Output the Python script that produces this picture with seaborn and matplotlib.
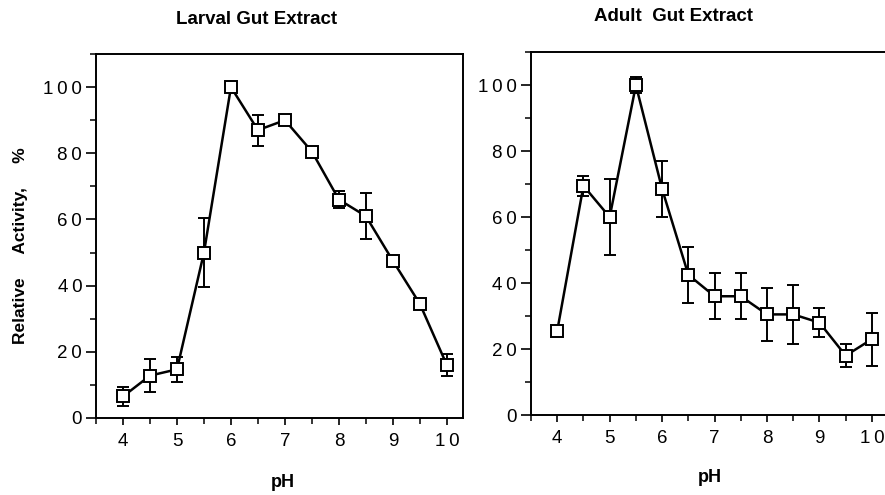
import numpy as np
import matplotlib
matplotlib.use("Agg")
import matplotlib.pyplot as plt
import seaborn as sns
import pandas as pd
from matplotlib.ticker import MultipleLocator, FuncFormatter

sns.set_theme(style="ticks")
plt.rcParams['font.family'] = ['Liberation Sans', 'DejaVu Sans']
plt.rcParams['text.color'] = 'black'
plt.rcParams['xtick.color'] = 'black'
plt.rcParams['ytick.color'] = 'black'

# pH values shared by both panels
ph = [4.0, 4.5, 5.0, 5.5, 6.0, 6.5, 7.0, 7.5, 8.0, 8.5, 9.0, 9.5, 10.0]

# Larval gut extract, relative activity (%) and error
larval = [6.5, 12.8, 14.7, 50.0, 100.0, 87.0, 90.0, 80.5, 66.0, 61.0, 47.5, 34.5, 16.0]
larval_err = [3.0, 5.0, 3.8, 10.5, 0.0, 4.7, 0.0, 0.0, 2.5, 7.0, 1.5, 0.0, 3.2]

# Adult gut extract
adult = [25.5, 69.5, 60.0, 100.0, 68.5, 42.5, 36.0, 36.0, 30.5, 30.5, 28.0, 18.0, 23.0]
adult_err = [0.0, 3.0, 11.5, 2.5, 8.5, 8.5, 7.0, 7.0, 8.0, 9.0, 4.5, 3.5, 8.0]

fig = plt.figure(figsize=(8.85, 4.95), dpi=100)
ax1 = fig.add_axes([0.1085, 0.1556, 0.4147, 0.7353])
ax2 = fig.add_axes([0.600, 0.1616, 0.403, 0.733])

# the original typesetting spreads the digits out a little
spaced = FuncFormatter(lambda v, p: "\u2009".join(str(int(round(v)))))


def draw(ax, y, err):
    df = pd.DataFrame({"pH": ph, "act": y})
    ax.errorbar(ph, y, yerr=err, fmt="none", ecolor="black",
                elinewidth=1.4, capsize=4.5, capthick=1.4, zorder=2)
    sns.lineplot(data=df, x="pH", y="act", ax=ax, color="black", lw=1.8,
                 marker="s", markersize=9, markerfacecolor="white",
                 markeredgecolor="black", markeredgewidth=1.4, zorder=3)
    ax.set_xlim(3.5, 10.3)
    ax.set_ylim(0, 110)
    ax.xaxis.set_major_locator(MultipleLocator(1))
    ax.xaxis.set_minor_locator(MultipleLocator(0.5))
    ax.yaxis.set_major_locator(MultipleLocator(20))
    ax.yaxis.set_minor_locator(MultipleLocator(10))
    ax.xaxis.set_major_formatter(spaced)
    ax.yaxis.set_major_formatter(spaced)
    ax.tick_params(axis="y", which="major", direction="out", length=7, width=1.2,
                   pad=3, labelsize=13.5)
    ax.tick_params(axis="y", which="minor", direction="out", length=4, width=1.1)
    ax.tick_params(axis="x", which="major", direction="out", length=5, width=1.2,
                   pad=6, labelsize=13.5)
    ax.tick_params(axis="x", which="minor", direction="out", length=4, width=1.1)
    for s in ax.spines.values():
        s.set_linewidth(1.4)
        s.set_color("black")
    ax.set_xlabel("")
    ax.set_ylabel("")


draw(ax1, larval, larval_err)
draw(ax2, adult, adult_err)

fig.text(0.290, 0.961, "Larval Gut Extract", ha="center", va="center",
         fontsize=13.5, fontweight="bold")
fig.text(0.761, 0.966, "Adult  Gut Extract", ha="center", va="center",
         fontsize=13.5, fontweight="bold")
fig.text(0.320, 0.025, "pH", ha="center", va="center", fontsize=13, fontweight="bold")
fig.text(0.802, 0.036, "pH", ha="center", va="center", fontsize=13, fontweight="bold")
fig.text(0.023, 0.503, "Relative     Activity,     %", ha="center", va="center",
         rotation=90, fontsize=12.5, fontweight="bold")

fig.savefig("out.png", dpi=100)
